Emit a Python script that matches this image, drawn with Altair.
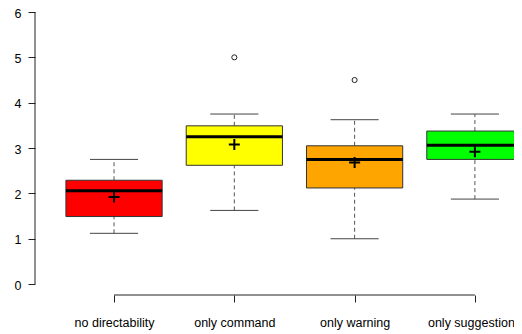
import json
import altair as alt
import pandas as pd

# ---- data ----
categories = ["no directability", "only command", "only warning", "only suggestion"]
whisker_lo = [1.12, 1.625, 1.0, 1.875]
q1 = [1.49, 2.62, 2.12, 2.75]
median = [2.06, 3.25, 2.75, 3.06]
q3 = [2.29, 3.49, 3.05, 3.375]
whisker_hi = [2.75, 3.75, 3.625, 3.75]
means = [1.92, 3.08, 2.68, 2.92]
box_colors = ["#FF0000", "#FFFF00", "#FFA500", "#00FF00"]
outlier_cat = ["only command", "only warning"]
outlier_val = [5.0, 4.5]
y_ticks = [0, 1, 2, 3, 4, 5, 6]

positions = list(range(1, len(categories) + 1))
pos_of = {c: p for c, p in zip(categories, positions)}

df = pd.DataFrame({
    "cat": categories, "pos": positions, "lo": whisker_lo, "q1": q1,
    "med": median, "q3": q3, "hi": whisker_hi, "mean": means, "color": box_colors,
})
out = pd.DataFrame({"cat": outlier_cat, "value": outlier_val})
out["pos"] = out["cat"].map(pos_of)
one = pd.DataFrame({"a": [0]})

W, H = 479, 283
xs = alt.Scale(domain=[0.343, 4.325], nice=False, zero=False)
ys = alt.Scale(domain=[-0.24, 6.0], nice=False, zero=False)
FONT = "Liberation Sans"

x_axis = alt.Axis(
    values=positions,
    labelExpr=json.dumps(categories) + "[datum.value - 1]",
    domain=False, grid=False, title=None, tickSize=7, tickColor="#222",
    labelPadding=14, labelFontSize=12.5, labelFont=FONT, labelColor="black",
    labelFlush=False, labelAngle=0, labelOverlap=False, labelBound=False,
    labelOffset={"condition": {"test": f"datum.value == {positions[-1]}", "value": -4}, "value": 0},
)
y_axis = alt.Axis(
    values=y_ticks, domain=False, grid=False, title=None, tickSize=7,
    tickColor="#222", labelPadding=7, labelFontSize=12.5, labelFont=FONT,
    labelColor="black", labelFlush=False, labelOffset=1,
)


def X(f):
    return alt.X(f, scale=xs, axis=x_axis, title=None)


def Y(f):
    return alt.Y(f, scale=ys, axis=y_axis, title=None)


base = alt.Chart(df).transform_calculate(
    left="datum.pos - 0.4", right="datum.pos + 0.4",
    cl="datum.pos - 0.2", cr="datum.pos + 0.2",
)

whisk_up = base.mark_rule(color="#555", strokeDash=[4, 3], strokeWidth=1).encode(
    x=X("pos:Q"), y=Y("q3:Q"), y2="hi:Q")
whisk_dn = base.mark_rule(color="#555", strokeDash=[4, 3], strokeWidth=1).encode(
    x=X("pos:Q"), y=Y("lo:Q"), y2="q1:Q")
cap_hi = base.mark_rule(color="#444", strokeWidth=1).encode(
    x=X("cl:Q"), x2="cr:Q", y=Y("hi:Q"))
cap_lo = base.mark_rule(color="#444", strokeWidth=1).encode(
    x=X("cl:Q"), x2="cr:Q", y=Y("lo:Q"))

boxes = base.mark_rect(stroke="#333", strokeWidth=1).encode(
    x=X("left:Q"), x2="right:Q", y=Y("q1:Q"), y2="q3:Q",
    fill=alt.Fill("color:N", scale=None),
)
med = base.mark_rule(color="black", strokeWidth=3).encode(
    x=X("left:Q"), x2="right:Q", y=Y("med:Q"))
mean_pt = base.mark_point(shape="M-1,0L1,0M0,-1L0,1", size=121, color="black",
                          strokeWidth=2, filled=False, opacity=1).encode(
    x=X("pos:Q"), y=Y("mean:Q"))
outliers = alt.Chart(out).mark_point(shape="circle", size=26, color="#222",
                                     strokeWidth=1, filled=False, opacity=1).encode(
    x=X("pos:Q"), y=Y("value:Q"))

y_line = alt.Chart(one).mark_rule(color="#222", strokeWidth=1).encode(
    x=alt.value(0),
    y=alt.YDatum(y_ticks[0], scale=ys, axis=y_axis, title=None),
    y2=alt.Y2Datum(y_ticks[-1]))
x_line = alt.Chart(one).mark_rule(color="#222", strokeWidth=1).encode(
    x=alt.XDatum(positions[0], scale=xs, axis=x_axis, title=None),
    x2=alt.X2Datum(positions[-1]), y=alt.value(H))

chart = alt.layer(
    whisk_up, whisk_dn, cap_hi, cap_lo, boxes, med, mean_pt, outliers, y_line, x_line
).properties(
    width=W, height=H,
    autosize=alt.AutoSizeParams(type="none"),
    padding={"left": 27, "top": 4, "right": 0, "bottom": 36},
    background="white",
).configure_view(stroke=None, clip=False)

chart.save("out.html", embed_options={"renderer": "svg", "actions": False})
